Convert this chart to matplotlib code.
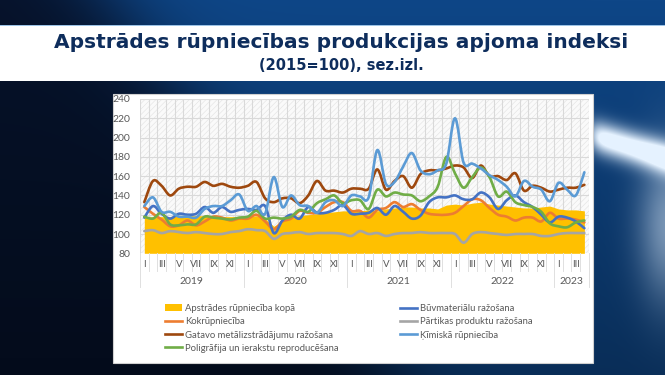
import numpy as np
import matplotlib
matplotlib.use("Agg")
import matplotlib.pyplot as plt
from matplotlib.path import Path
from matplotlib.patches import PathPatch, Rectangle, Patch
from matplotlib.lines import Line2D
import matplotlib.transforms as mtransforms

# Data (monthly, I.2019 - IV.2023)
years = ['2019', '2020', '2021', '2022', '2023']
months_per_year = [12, 12, 12, 12, 4]
roman = ['I', 'II', 'III', 'IV', 'V', 'VI', 'VII', 'VIII', 'IX', 'X', 'XI', 'XII']

kopa = [117, 118, 118, 118, 119, 119, 119, 119, 119, 118, 118, 118,
        118, 119, 116, 108, 113, 117, 119, 120, 121, 122, 123, 124,
        124, 124, 125, 124, 126, 127, 128, 128, 127, 127, 126, 130,
        131, 130, 132, 133, 131, 130, 129, 128, 127, 127, 128, 129,
        126, 125, 125, 124]
kokrup = [128, 121, 115, 108, 109, 114, 109, 113, 118, 117, 114, 116,
          116, 120, 113, 105, 113, 116, 124, 122, 122, 128, 133, 133,
          124, 124, 117, 125, 127, 133, 128, 131, 125, 121, 120, 120,
          122, 129, 136, 135, 127, 120, 118, 114, 117, 117, 113, 122,
          116, 116, 115, 112]
gatavo = [133, 155, 150, 140, 147, 149, 149, 154, 150, 152, 149, 148,
          150, 154, 137, 133, 137, 137, 132, 140, 155, 145, 145, 143,
          147, 147, 147, 167, 146, 155, 160, 148, 162, 166, 166, 168,
          171, 169, 158, 171, 160, 160, 156, 163, 145, 150, 148, 144,
          146, 148, 148, 151]
poligr = [118, 116, 122, 110, 109, 110, 110, 118, 117, 116, 115, 117,
          118, 124, 116, 117, 116, 118, 125, 123, 132, 136, 140, 132,
          135, 135, 126, 146, 139, 143, 141, 140, 134, 139, 149, 180,
          163, 148, 159, 169, 159, 139, 144, 133, 130, 128, 123, 111,
          108, 107, 112, 114]
buvmat = [117, 129, 121, 116, 121, 120, 121, 128, 122, 128, 123, 125,
          126, 125, 129, 101, 114, 120, 116, 128, 122, 122, 125, 130,
          121, 121, 122, 127, 120, 129, 123, 116, 119, 133, 138, 138,
          140, 136, 136, 143, 138, 126, 135, 140, 133, 128, 120, 112,
          118, 117, 113, 106]
partikas = [103, 104, 101, 103, 102, 101, 102, 101, 100, 100, 102, 103,
            105, 104, 103, 95, 100, 101, 102, 100, 101, 101, 101, 100,
            98, 103, 100, 101, 98, 100, 101, 101, 102, 101, 101, 101,
            100, 91, 100, 102, 101, 100, 99, 100, 100, 100, 98, 98,
            100, 101, 101, 101]
kimiska = [129, 138, 123, 123, 118, 118, 117, 126, 129, 129, 135, 141,
           124, 129, 121, 159, 128, 140, 130, 129, 122, 133, 135, 129,
           140, 139, 138, 187, 152, 154, 170, 184, 166, 162, 166, 173,
           220, 174, 173, 168, 161, 156, 149, 139, 155, 149, 146, 134,
           153, 146, 140, 164]

line_series = [
    ('Kokrūpniecība', kokrup, '#ED7D31'),
    ('Gatavo metālizstrādājumu ražošana', gatavo, '#9E480E'),
    ('Poligrāfija un ierakstu reproducēšana', poligr, '#70AD47'),
    ('Būvmateriālu ražošana', buvmat, '#4472C4'),
    ('Pārtikas produktu ražošana', partikas, '#A5A5A5'),
    ('Ķīmiskā rūpniecība', kimiska, '#5B9BD5'),
]
draw_order = [4, 0, 3, 1, 2, 5]

NARROW = ['Lato', 'DejaVu Sans']
GREY = '#595959'

W, H = 665, 375
fig = plt.figure(figsize=(W / 100, H / 100), dpi=100)

# slide background
bg = fig.add_axes([0, 0, 1, 1], zorder=-5)
yy, xx = np.mgrid[0:H, 0:W].astype(float)
t = 1 / (1 + np.exp(-(xx - (110 + 0.75 * yy)) / 30))
dark = np.array([6, 18, 42]) / 255
blue = np.array([14, 70, 135]) / 255
img = dark[None, None, :] * (1 - t[..., None]) + blue[None, None, :] * t[..., None]
img *= (1 - 0.35 * (yy / H))[..., None]
right = 1 / (1 + np.exp(-(xx - 592) / 4))
swoosh = np.exp(-((yy - (135 + 0.3 * (xx - 592))) / 16) ** 2) * right
glow = 0.5 * np.exp(-((xx - 668) / 30) ** 2) * np.exp(-((yy - 225) / 75) ** 2) * right
light = np.array([0.9, 0.95, 1.0])
mix = np.clip(1.2 * swoosh + glow, 0, 1)[..., None]
img = img * (1 - mix) + light[None, None, :] * mix
bg.imshow(np.clip(img, 0, 1), aspect='auto', extent=[0, W, H, 0])
bg.set_xlim(0, W)
bg.set_ylim(H, 0)
bg.axis('off')

def fx(px):
    return px / W

def fy(py):
    return 1 - py / H

# title band and chart box
fig.patches.append(Rectangle((0, fy(81)), 1, (81 - 25.5) / H, transform=fig.transFigure,
                             facecolor='white', edgecolor='none', zorder=1))
fig.patches.append(Rectangle((0, fy(26)), 1, 1.2 / H, transform=fig.transFigure,
                             facecolor='#9cc3e6', edgecolor='none', zorder=1))
fig.patches.append(Rectangle((fx(112.5), fy(362.5)), (592.5 - 112.5) / W, (362.5 - 93.5) / H,
                             transform=fig.transFigure, facecolor='white',
                             edgecolor='#d0d0d0', linewidth=0.8, zorder=1))

fig.text(fx(341), fy(43), 'Apstrādes rūpniecības produkcijas apjoma indeksi',
         ha='center', va='center', fontsize=14.5, fontweight='bold', color='#0e2d5c', zorder=3)
fig.text(fx(341), fy(66), '(2015=100), sez.izl.',
         ha='center', va='center', fontsize=10.5, fontweight='bold', color='#0e2d5c', zorder=3)

# plot area
ax = fig.add_axes([fx(140), fy(253.3), (588.7 - 140) / W, (253.3 - 99) / H], zorder=2)
n = len(kopa)
x = np.arange(n)
ax.set_xlim(-0.5, n - 0.5)
ax.set_ylim(80, 240)
ax.set_facecolor('#fafafa')
plt.rcParams['hatch.linewidth'] = 0.4
ax.add_patch(Rectangle((0, 0), 1, 1, transform=ax.transAxes, facecolor='none',
                       edgecolor='#e2e2e2', hatch='//////', linewidth=0, zorder=0))
for yv in range(80, 241, 20):
    ax.axhline(yv, color='#d9d9d9', lw=0.8, zorder=1)
for xb in np.arange(-0.5, n, 1.0):
    ax.axvline(xb, color='#d9d9d9', lw=0.8, zorder=1)

ax.fill_between(x, 80, kopa, color='#FFC000', lw=0, zorder=2)

def smooth_path(xs, ys):
    pts = np.column_stack([xs, ys]).astype(float)
    ext = np.vstack([pts[0], pts, pts[-1]])
    verts = [pts[0]]
    codes = [Path.MOVETO]
    for i in range(len(pts) - 1):
        p0, p1, p2, p3 = ext[i], ext[i + 1], ext[i + 2], ext[i + 3]
        verts += [p1 + (p2 - p0) / 6, p2 - (p3 - p1) / 6, p2]
        codes += [Path.CURVE4] * 3
    return Path(verts, codes)

for k in draw_order:
    name, vals, col = line_series[k]
    ax.add_patch(PathPatch(smooth_path(x, vals), facecolor='none', edgecolor=col,
                           lw=1.9, capstyle='round', joinstyle='round', zorder=3))

for s in ax.spines.values():
    s.set_visible(False)
ax.set_yticks(range(80, 241, 20))
ax.tick_params(axis='y', length=0, labelsize=7.5, labelcolor=GREY, pad=7)
for lab in ax.get_yticklabels():
    lab.set_family(NARROW)
ax.set_xticks([])

# two-level category axis
trans = mtransforms.blended_transform_factory(ax.transData, fig.transFigure)
starts = np.cumsum([0] + months_per_year)
for b in np.arange(-0.5, n, 1.0):
    is_year = (b + 0.5) in starts
    y_end = 287 if is_year else 271
    ax.plot([b, b], [fy(253.3), fy(y_end)], transform=trans, color='#e0e0e0',
            lw=0.7, clip_on=False)
for yi, yr in enumerate(years):
    s0 = starts[yi]
    for m in range(months_per_year[yi]):
        if m % 2 == 0:
            ax.text(s0 + m, fy(264.5), roman[m], transform=trans, ha='center', va='center',
                    fontsize=7, color=GREY, family=NARROW)
    ax.text(s0 + (months_per_year[yi] - 1) / 2, fy(282), yr, transform=trans,
            ha='center', va='center', fontsize=7.5, color=GREY, family=NARROW)

# legend, two blocks
handles = [Patch(facecolor='#FFC000', edgecolor='none')]
labels = ['Apstrādes rūpniecība kopā']
for k in range(6):
    handles.append(Line2D([], [], color=line_series[k][2], lw=1.9))
    labels.append(line_series[k][0])
leg_kw = dict(loc='upper left', frameon=False, labelcolor=GREY, borderpad=0, borderaxespad=0,
              handlelength=1.9, handletextpad=0.25, labelspacing=0.45,
              prop={'family': NARROW, 'size': 6.8})
leg1 = fig.legend(handles[:4], labels[:4], bbox_to_anchor=(fx(164.5), fy(304)), **leg_kw)
leg2 = fig.legend(handles[4:], labels[4:], bbox_to_anchor=(fx(399.5), fy(304)), **leg_kw)
leg1.set_zorder(4)
leg2.set_zorder(4)

fig.savefig('out.png', dpi=100)
